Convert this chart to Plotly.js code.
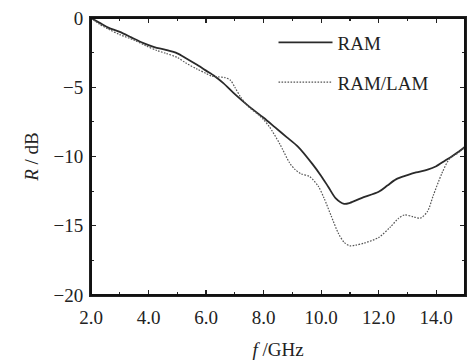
<!DOCTYPE html>
<html>
<head>
<meta charset="utf-8">
<script src="https://cdn.plot.ly/plotly-3.0.1.min.js"></script>
<style>html,body{margin:0;padding:0;background:#fff;}#chart{width:468px;height:363px;}</style>
</head>
<body>
<div id="chart"></div>
<script>
// Data
const freqRAM = [2.0, 2.3, 2.6, 3.0, 3.4, 3.8, 4.2, 4.6, 5.0, 5.3, 5.7, 6.0, 6.3, 6.6, 7.0, 7.5, 8.0, 8.4, 8.8, 9.2, 9.7, 10.0, 10.25, 10.5, 10.8, 11.0, 11.4, 12.0, 12.3, 12.6, 13.0, 13.3, 13.7, 14.0, 14.3, 14.5, 14.75, 15.0];
const rRAM    = [0, -0.35, -0.7, -1.0, -1.4, -1.8, -2.1, -2.3, -2.55, -2.9, -3.4, -3.8, -4.2, -4.7, -5.5, -6.4, -7.2, -7.9, -8.6, -9.3, -10.55, -11.4, -12.2, -13.0, -13.42, -13.35, -13.0, -12.55, -12.1, -11.65, -11.35, -11.15, -10.95, -10.7, -10.3, -10.05, -9.7, -9.3];

const freqLAM = [2.0, 2.3, 2.6, 3.0, 3.5, 3.9, 4.3, 4.6, 5.0, 5.3, 5.7, 6.0, 6.2, 6.4, 6.65, 6.85, 7.0, 7.2, 7.5, 7.8, 8.0, 8.2, 8.55, 8.9, 9.1, 9.3, 9.6, 9.9, 10.1, 10.35, 10.6, 10.8, 11.0, 11.2, 11.5, 12.0, 12.4, 12.7, 12.9, 13.2, 13.45, 13.7, 13.9, 14.2, 14.45, 14.75, 15.0];
const rLAM    = [0, -0.45, -0.8, -1.2, -1.6, -2.0, -2.35, -2.55, -2.85, -3.25, -3.7, -4.0, -4.2, -4.25, -4.3, -4.5, -5.0, -5.7, -6.45, -6.95, -7.35, -7.85, -9.05, -10.45, -10.95, -11.25, -11.45, -12.15, -13.0, -14.3, -15.55, -16.2, -16.45, -16.4, -16.25, -15.85, -15.1, -14.45, -14.22, -14.35, -14.45, -13.95, -12.8, -11.2, -10.2, -9.75, -9.35];

const xTickVals = [2, 4, 6, 8, 10, 12, 14];
const xTickText = ['2.0', '4.0', '6.0', '8.0', '10.0', '12.0', '14.0'];
const yTickVals = [0, -5, -10, -15, -20];
const yTickText = ['0', '\u22125', '\u221210', '\u221215', '\u221220'];
const seriesNames = ['RAM', 'RAM/LAM'];

const FONT = 'Liberation Serif';

const traces = [
  {x: freqRAM, y: rRAM, name: seriesNames[0], mode: 'lines', legendgroup: 'a',
   line: {color: '#2a2a2a', width: 1.8, shape: 'spline', smoothing: 0.8}},
  {x: freqLAM, y: rLAM, name: seriesNames[1], mode: 'lines', legendgroup: 'b',
   line: {color: '#555', width: 1.2, dash: '1.6px,1.4px', shape: 'spline', smoothing: 0.8}}
];

const tickCommon = {
  showgrid: false, zeroline: false, showline: true, linecolor: '#222', linewidth: 2,
  ticks: 'inside', ticklen: 5, tickwidth: 1.3, tickcolor: '#222', mirror: 'ticks',
  tickfont: {family: FONT, size: 19, color: '#222'}
};

const layout = {
  width: 468, height: 363,
  margin: {l: 91, r: 3, t: 18, b: 68},
  paper_bgcolor: '#fff', plot_bgcolor: '#fff',
  font: {family: FONT, color: '#222'},
  showlegend: true,
  legend: {x: 0.488, y: 0.98, xanchor: 'left', yanchor: 'top', bgcolor: 'rgba(0,0,0,0)',
           font: {family: FONT, size: 19, color: '#222'}, traceorder: 'grouped', tracegroupgap: 12,
           itemwidth: 54},
  shapes: [{type: 'rect', xref: 'paper', yref: 'paper', x0: 0, x1: 1, y0: 0, y1: 1,
            line: {color: '#111', width: 2}, layer: 'above'}],
  xaxis: Object.assign({}, tickCommon, {
    range: [2, 15], tickmode: 'array', tickvals: xTickVals, ticktext: xTickText,
    ticklabelstandoff: 4,
    minor: {tick0: 2, dtick: 1, ticks: 'inside', ticklen: 3, tickwidth: 1.2, tickcolor: '#222'},
    title: {text: '<i>f</i> /GHz', font: {family: FONT, size: 19, color: '#222'}, standoff: 16}
  }),
  yaxis: Object.assign({}, tickCommon, {
    range: [-20, 0], tickmode: 'array', tickvals: yTickVals, ticktext: yTickText,
    ticklabelstandoff: 2,
    minor: {tick0: 0, dtick: 2.5, ticks: 'inside', ticklen: 3, tickwidth: 1.2, tickcolor: '#222'},
    title: {text: '<i>R</i> / dB', font: {family: FONT, size: 19, color: '#222'}, standoff: 10}
  })
};

Plotly.newPlot('chart', traces, layout, {staticPlot: true, displayModeBar: false});
</script>
</body>
</html>
